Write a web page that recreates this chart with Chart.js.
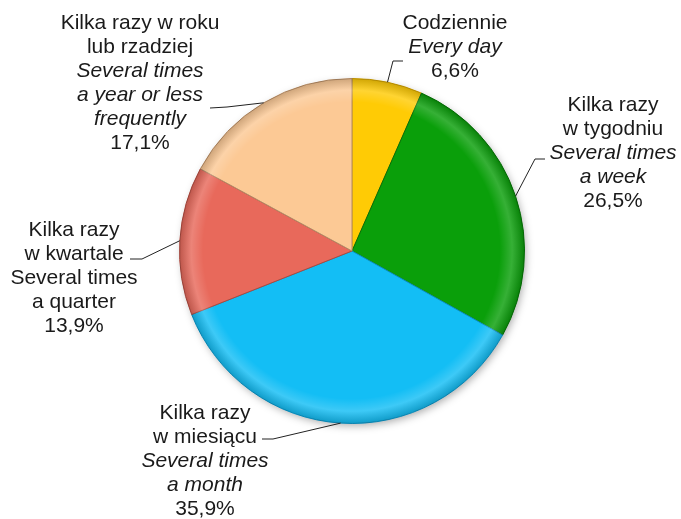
<!DOCTYPE html>
<html>
<head>
<meta charset="utf-8">
<script src="https://cdn.jsdelivr.net/npm/chart.js@4"></script>
<style>
  html,body{margin:0;padding:0;background:#fff;}
  #wrap{width:681px;height:519px;position:relative;}
</style>
</head>
<body>
<div id="wrap"><canvas id="pieChart" width="681" height="519"></canvas></div>
<script>
const categoriesPl=[
    ['Codziennie'],
    ['Kilka razy','w tygodniu'],
    ['Kilka razy','w miesiącu'],
    ['Kilka razy','w kwartale'],
    ['Kilka razy w roku','lub rzadziej']
];
const categoriesEn=[
    ['Every day'],
    ['Several times','a week'],
    ['Several times','a month'],
    ['Several times','a quarter'],
    ['Several times','a year or less','frequently']
];
const enItalic=[true,true,true,false,true];
const shares=[6.6,26.5,35.9,13.9,17.1];
const sliceColors=['#FFCB05','#0A9F0A','#13BEF5','#E8695B','#FCC995'];
const sliceBorders=['#C99A00','#067006','#0B8FC0','#A94A40','#B58C66'];

// label block placement: centre x, first line y, elbow and end of the leader line
const labelLayout=[
    {x:455,y:23,elbow:[393,61],end:[403,61]},
    {x:613,y:105,elbow:[535,159],end:[545,159]},
    {x:205,y:413,elbow:[273,439],end:[262,439]},
    {x:74,y:230,elbow:[142,259],end:[130,259]},
    {x:140,y:23,elbow:[227,107],end:[210,108]}
];

function fmt(v){
    return v.toFixed(1).replace('.',',')+'%';
}

const pieDecor={
    id:'pieDecor',
    beforeDatasetsDraw(chart){
        const arc=chart.getDatasetMeta(0).data[0];
        if(!arc) return;
        const ctx=chart.ctx;
        ctx.save();
        ctx.shadowColor='rgba(0,0,0,0.35)';
        ctx.shadowBlur=8;
        ctx.shadowOffsetX=2;
        ctx.shadowOffsetY=3;
        ctx.fillStyle='#ccc';
        ctx.beginPath();
        ctx.arc(arc.x,arc.y,arc.outerRadius-1,0,Math.PI*2);
        ctx.fill();
        ctx.restore();
    },
    afterDatasetsDraw(chart){
        const meta=chart.getDatasetMeta(0);
        const ctx=chart.ctx;
        const a0=meta.data[0];
        // bevel on the rim
        ctx.save();
        const g=ctx.createRadialGradient(a0.x-4,a0.y-4,0,a0.x,a0.y,a0.outerRadius);
        g.addColorStop(0,'rgba(255,255,255,0)');
        g.addColorStop(0.86,'rgba(255,255,255,0)');
        g.addColorStop(0.93,'rgba(255,255,255,0.18)');
        g.addColorStop(1,'rgba(0,0,0,0.18)');
        ctx.fillStyle=g;
        ctx.beginPath();
        ctx.arc(a0.x,a0.y,a0.outerRadius,0,Math.PI*2);
        ctx.fill();
        ctx.restore();

        ctx.save();
        ctx.textAlign='center';
        ctx.textBaseline='middle';
        ctx.fillStyle='#1a1a1a';
        meta.data.forEach((arc,i)=>{
            const mid=(arc.startAngle+arc.endAngle)/2;
            const sx=arc.x+Math.cos(mid)*arc.outerRadius;
            const sy=arc.y+Math.sin(mid)*arc.outerRadius;
            const L=labelLayout[i];
            ctx.strokeStyle='#222';
            ctx.lineWidth=1;
            ctx.beginPath();
            ctx.moveTo(sx,sy);
            ctx.lineTo(L.elbow[0],L.elbow[1]);
            ctx.lineTo(L.end[0],L.end[1]);
            ctx.stroke();

            let y=L.y;
            categoriesPl[i].forEach(t=>{
                ctx.font='21px "Liberation Sans", Arial, sans-serif';
                ctx.fillText(t,L.x,y);
                y+=24;
            });
            categoriesEn[i].forEach(t=>{
                ctx.font=(enItalic[i]?'italic ':'')+'21px "Liberation Sans", Arial, sans-serif';
                ctx.fillText(t,L.x,y);
                y+=24;
            });
            ctx.font='21px "Liberation Sans", Arial, sans-serif';
            ctx.fillText(fmt(shares[i]),L.x,y);
        });
        ctx.restore();
    }
};

const ctx=document.getElementById('pieChart').getContext('2d');
new Chart(ctx,{
    type:'pie',
    data:{
        labels:categoriesPl.map(l=>l.join(' ')),
        datasets:[{
            data:shares,
            backgroundColor:sliceColors,
            borderColor:sliceBorders,
            borderWidth:1
        }]
    },
    options:{
        responsive:false,
        animation:false,
        layout:{padding:{left:179,right:156,top:78,bottom:95}},
        plugins:{
            legend:{display:false},
            tooltip:{enabled:false}
        }
    },
    plugins:[pieDecor]
});
</script>
</body>
</html>
